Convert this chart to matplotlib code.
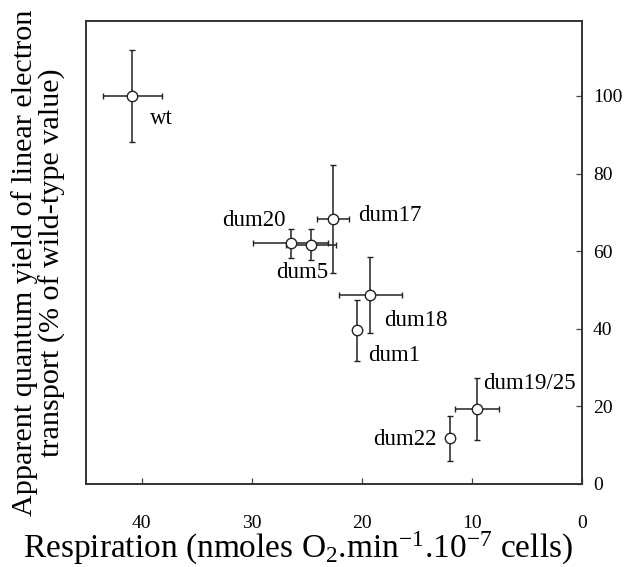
import matplotlib
matplotlib.use("Agg")
import matplotlib.pyplot as plt

plt.rcParams["font.family"] = ["Liberation Serif", "DejaVu Serif"]
plt.rcParams["mathtext.fontset"] = "custom"
plt.rcParams["mathtext.rm"] = "Liberation Serif"
plt.rcParams["mathtext.it"] = "Liberation Serif:italic"

# Strains: respiration rate vs. relative quantum yield of linear electron transport
strains = ["wt", "dum17", "dum20", "dum5", "dum18", "dum1", "dum19/25", "dum22"]
respiration = [40.85, 22.6, 26.45, 24.6, 19.2, 20.45, 9.55, 11.95]
respiration_err = [2.7, 1.45, 3.4, 2.25, 2.9, 0.0, 2.0, 0.0]
quantum_yield = [100.0, 68.2, 62.0, 61.6, 48.7, 39.6, 19.3, 11.8]
quantum_yield_err = [11.8, 13.9, 3.8, 4.0, 9.7, 7.9, 7.9, 5.8]

# label anchor (x, y) and horizontal alignment for each strain name
label_x = [39.25, 20.3, 26.9, 23.0, 17.95, 19.4, 9.0, 13.2]
label_y = [94.1, 69.3, 68.0, 54.5, 42.1, 33.2, 25.8, 11.5]
label_ha = ["left", "left", "right", "right", "left", "left", "left", "right"]

x_ticks = [40, 30, 20, 10, 0]
y_ticks = [0, 20, 40, 60, 80, 100]

fig = plt.figure(figsize=(6.24, 5.67), dpi=100)
ax = fig.add_axes([86 / 624, 1 - 484 / 567, (581.7 - 86) / 624, (484 - 21) / 567])

ink = "#222222"
for xv, xe, yv, ye in zip(respiration, respiration_err, quantum_yield, quantum_yield_err):
    ax.errorbar(xv, yv, xerr=xe if xe > 0 else None, yerr=ye,
                fmt="o", ms=7.5, mfc="white", mec=ink, mew=1.0,
                ecolor=ink, elinewidth=1.1, capsize=2.0, capthick=1.1, zorder=3)

for name, lx, ly, ha in zip(strains, label_x, label_y, label_ha):
    ax.text(lx, ly, name, ha=ha, va="center", fontsize=16.5, color="black")

ax.set_xlim(45.05, 0)
ax.set_ylim(0, 119.3)
ax.set_xticks(x_ticks)
ax.set_yticks(y_ticks)
ax.set_xticklabels([str(t) for t in x_ticks])
ax.set_yticklabels([str(t) for t in y_ticks])

ax.yaxis.tick_right()
ax.tick_params(axis="x", direction="in", length=4, width=0.9, color="#444444",
               labelsize=14, pad=22, top=False)
ax.tick_params(axis="y", direction="in", length=4, width=0.9, color="#444444",
               labelsize=14, pad=8, left=False, right=True)

for side in ax.spines.values():
    side.set_linewidth(1.4)
    side.set_color("#333333")

ax.set_xlabel(r"Respiration (nmoles O$_2$.min$^{\mathrm{-1}}$.10$^{\mathrm{-7}}$ cells)",
              fontsize=24)
ax.xaxis.set_label_coords(0.428, -0.100)
ax.set_ylabel("Apparent quantum yield of linear electron\ntransport (% of wild-type value)",
              fontsize=21.7, linespacing=1.05)
ax.yaxis.set_label_position("left")
ax.yaxis.set_label_coords(-0.040, 0.478)

fig.savefig("out.png", dpi=100)
